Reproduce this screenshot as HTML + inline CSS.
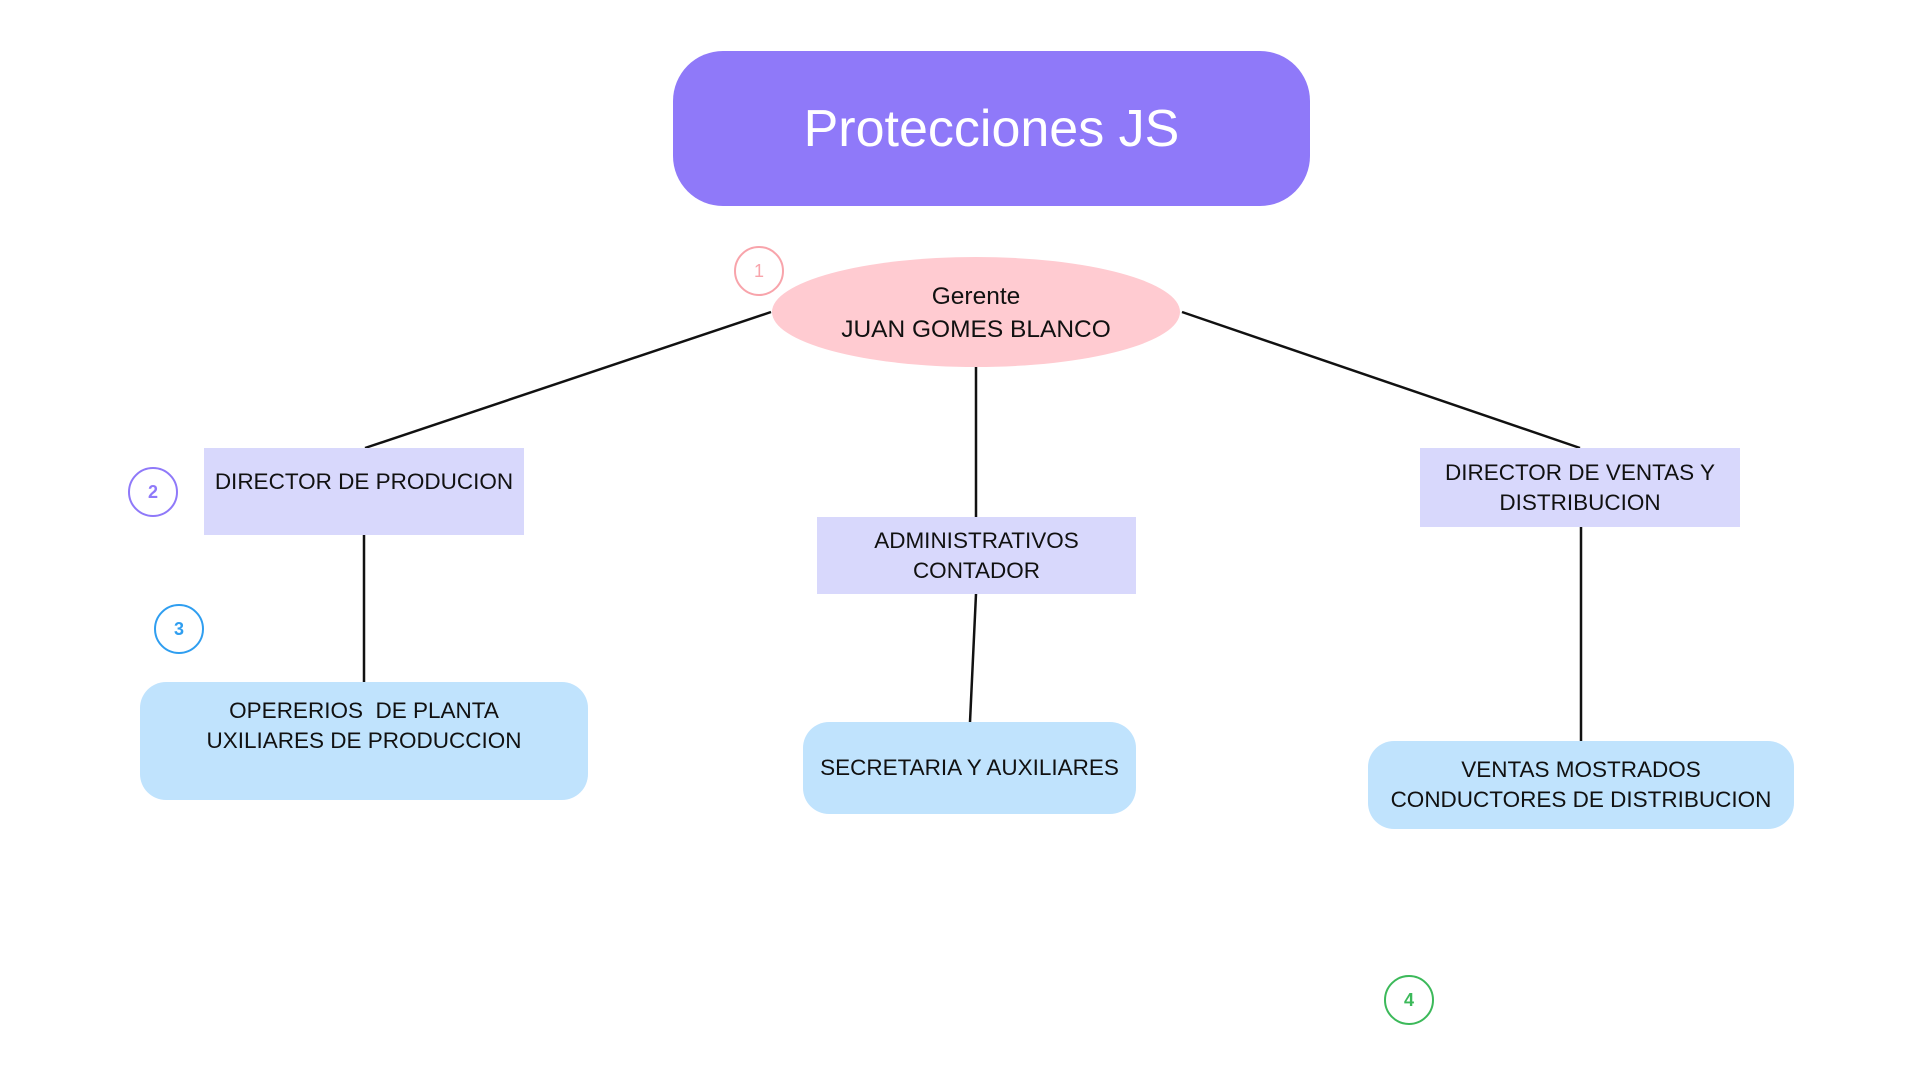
<!DOCTYPE html>
<html><head><meta charset="utf-8"><style>
body{margin:0;width:1920px;height:1080px;background:#fff;position:relative;overflow:hidden;font-family:"Liberation Sans",sans-serif;color:#111}
.b{position:absolute;display:flex;align-items:center;justify-content:center;text-align:center;font-size:22.5px;line-height:30px;box-sizing:border-box}
.p{background:#d8d8fc}
.l{background:#c0e3fd;border-radius:26px}
.c{position:absolute;width:50px;height:50px;border-radius:50%;box-sizing:border-box;border:2px solid;display:flex;align-items:center;justify-content:center;font-size:18px;font-weight:bold}
</style></head><body>
<svg width="1920" height="1080" style="position:absolute;left:0;top:0">
<g stroke="#111" stroke-width="2.5">
<line x1="771" y1="312" x2="365" y2="448"/>
<line x1="1182" y1="312" x2="1580" y2="448"/>
<line x1="976" y1="367" x2="976" y2="517"/>
<line x1="364" y1="535" x2="364" y2="682"/>
<line x1="976" y1="594" x2="970" y2="722"/>
<line x1="1581" y1="527" x2="1581" y2="741"/>
</g>
<ellipse cx="976" cy="312" rx="204" ry="55" fill="#ffcbd1"/>
</svg>
<div class="b" style="left:673px;top:51px;width:637px;height:155px;background:#8f79f9;border-radius:50px;color:#fff;font-size:52px">Protecciones JS</div>
<div class="b" style="left:772px;top:258px;width:408px;height:110px;font-size:24.5px;line-height:33px">Gerente<br>JUAN GOMES BLANCO</div>
<div class="c" style="left:734px;top:246px;border-color:#f8a4ab;color:#f8a4ab;font-weight:normal">1</div>
<div class="c" style="left:128px;top:467px;border-color:#8f79f9;color:#8f79f9">2</div>
<div class="c" style="left:154px;top:604px;border-color:#2f9ef0;color:#2f9ef0">3</div>
<div class="c" style="left:1384px;top:975px;border-color:#3cb95a;color:#3cb95a">4</div>
<div class="b p" style="left:204px;top:448px;width:320px;height:87px;align-items:flex-start;padding-top:19px">DIRECTOR DE PRODUCION</div>
<div class="b p" style="left:817px;top:517px;width:319px;height:77px">ADMINISTRATIVOS<br>CONTADOR</div>
<div class="b p" style="left:1420px;top:448px;width:320px;height:79px">DIRECTOR DE VENTAS Y<br>DISTRIBUCION</div>
<div class="b l" style="left:140px;top:682px;width:448px;height:118px;align-items:flex-start;padding-top:14px">OPERERIOS&nbsp; DE PLANTA<br>UXILIARES DE PRODUCCION</div>
<div class="b l" style="left:803px;top:722px;width:333px;height:92px">SECRETARIA Y AUXILIARES</div>
<div class="b l" style="left:1368px;top:741px;width:426px;height:88px">VENTAS MOSTRADOS<br>CONDUCTORES DE DISTRIBUCION</div>
</body></html>
